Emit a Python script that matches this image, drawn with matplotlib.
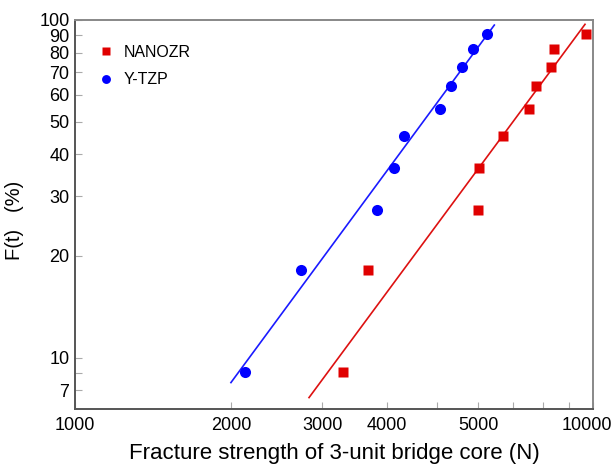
import matplotlib
matplotlib.use("Agg")
import matplotlib.pyplot as plt
import matplotlib.transforms as mtransforms
from matplotlib.ticker import NullFormatter, NullLocator

plt.rcParams['font.family'] = ['Liberation Sans', 'DejaVu Sans']

# Data
F_pct = [9.09, 18.18, 27.27, 36.36, 45.45, 54.55, 63.64, 72.73, 81.82, 90.91]
ytzp_x = [2129, 2731, 3823, 4128, 4321, 5058, 5319, 5586, 5874, 6252]
nanozr_x = [3296, 3673, 5989, 6034, 6700, 7514, 7762, 8311, 8410, 9683]

ytzp_fit_x = [2000, 6449]
ytzp_fit_F = [8.43, 96.6]
nanozr_fit_x = [2830, 9651]
nanozr_fit_F = [7.61, 97.1]

x_tick_pos = [1000, 2000, 3000, 4000, 6000, 10000]
x_tick_lab = ['1000', '2000', '3000', '4000', '5000', '10000']
x_minor = [5000, 7000, 8000, 9000]
y_tick_pos = [8, 10, 20, 30, 40, 50, 60, 70, 80, 90, 100]
y_tick_lab = ['7', '10', '20', '30', '40', '50', '60', '70', '80', '90', '100']
y_minor = [9]

fig = plt.figure(figsize=(6.15, 4.67), dpi=100)
ax = fig.add_axes([75/615, 1-409/467, (593-75)/615, (409-20)/467])

ax.set_xscale('log')
ax.set_yscale('log')
ax.set_xlim(1000, 10000)
ax.set_ylim(7.04, 100)

ax.plot(ytzp_fit_x, ytzp_fit_F, color='#1a1aff', lw=1.2, zorder=2)
ax.plot(nanozr_fit_x, nanozr_fit_F, color='#dd1111', lw=1.2, zorder=2)
ax.plot(nanozr_x, F_pct, 's', color='#e00000', ms=7, mec='none', label='NANOZR', zorder=3)
ax.plot(ytzp_x, F_pct, 'o', color='#0000ff', ms=8, mec='none', label='Y-TZP', zorder=3)

ax.xaxis.set_major_locator(NullLocator())
ax.xaxis.set_minor_locator(NullLocator())
ax.yaxis.set_minor_locator(NullLocator())
ax.set_xticks(x_tick_pos)
ax.set_xticklabels(x_tick_lab)
ax.set_xticks(x_minor, minor=True)
ax.xaxis.set_minor_formatter(NullFormatter())
ax.set_yticks(y_tick_pos)
ax.set_yticklabels(y_tick_lab)
ax.set_yticks(y_minor, minor=True)
ax.yaxis.set_minor_formatter(NullFormatter())

ax.tick_params(which='both', direction='in', length=5, width=0.8, color='#aaaaaa',
               labelsize=13, labelcolor='black', pad=6)
ax.tick_params(axis='y', pad=4)

# shift the last x label slightly left so it stays inside the figure
last = ax.get_xticklabels()[-1]
last.set_transform(last.get_transform() +
                   mtransforms.ScaledTranslation(-6/100, 0, fig.dpi_scale_trans))

for s in ['left', 'bottom']:
    ax.spines[s].set_color('#555555')
    ax.spines[s].set_linewidth(1.4)
for s in ['top', 'right']:
    ax.spines[s].set_color('#888888')
    ax.spines[s].set_linewidth(1.4)

ax.set_xlabel('Fracture strength of 3-unit bridge core (N)', fontsize=16, labelpad=6)
ax.set_ylabel('F(t)   (%)', fontsize=14.5)
ax.yaxis.set_label_coords(-0.098, 0.485)

ax.legend(loc='upper left', frameon=False, fontsize=11.5, handletextpad=0.6,
          labelspacing=0.78, borderaxespad=0.0, bbox_to_anchor=(0.032, 0.953),
          handlelength=1.0, markerscale=0.8)

fig.savefig('out.png', dpi=100)
